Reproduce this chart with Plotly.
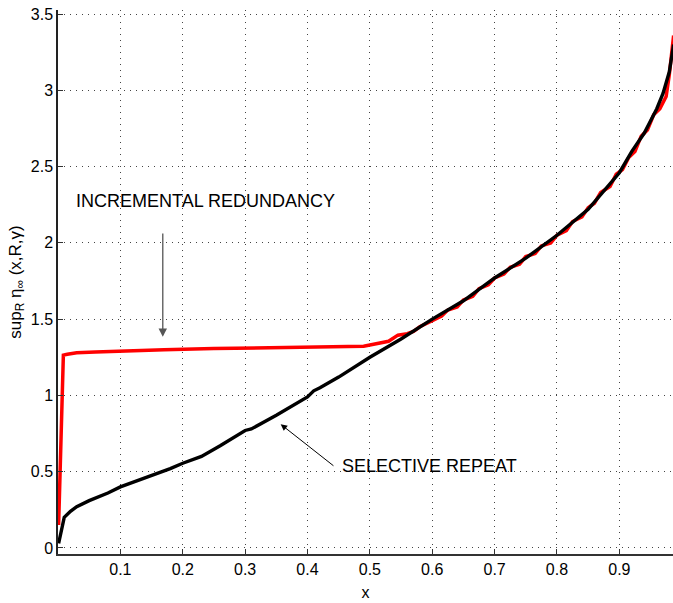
import plotly.graph_objects as go

# Selective repeat throughput curve
sr_x = [0.001, 0.01, 0.02, 0.03, 0.05, 0.08, 0.10, 0.12, 0.15, 0.18, 0.20, 0.23,
        0.26, 0.30, 0.31, 0.35, 0.40, 0.41, 0.42, 0.45, 0.50, 0.55, 0.60, 0.65,
        0.70, 0.75, 0.80, 0.85, 0.90, 0.92, 0.94, 0.96, 0.97, 0.98, 0.987]
sr_y = [0.03, 0.20, 0.24, 0.27, 0.31, 0.36, 0.40, 0.43, 0.47, 0.52, 0.555, 0.60,
        0.67, 0.77, 0.78, 0.87, 0.99, 1.03, 1.05, 1.12, 1.25, 1.37, 1.50, 1.62,
        1.77, 1.90, 2.05, 2.22, 2.46, 2.60, 2.72, 2.88, 2.98, 3.12, 3.30]

# Incremental redundancy throughput curve
ir_x = [0.001, 0.0086, 0.015, 0.03, 0.06, 0.10, 0.17, 0.25, 0.30, 0.40, 0.48,
        0.49, 0.50, 0.52, 0.53, 0.545, 0.56, 0.57, 0.58, 0.60, 0.615, 0.625,
        0.64, 0.65, 0.665, 0.675, 0.69, 0.70, 0.715, 0.725, 0.74, 0.75, 0.765,
        0.775, 0.79, 0.80, 0.815, 0.825, 0.84, 0.85, 0.86, 0.87, 0.885, 0.895,
        0.905, 0.915, 0.925, 0.935, 0.945, 0.955, 0.965, 0.975, 0.98, 0.987]
ir_y = [0.15, 1.264, 1.27, 1.279, 1.285, 1.292, 1.30, 1.307, 1.311, 1.318, 1.325,
        1.322, 1.33, 1.35, 1.355, 1.395, 1.405, 1.42, 1.45, 1.49, 1.52, 1.56,
        1.58, 1.625, 1.65, 1.70, 1.725, 1.77, 1.795, 1.84, 1.86, 1.91, 1.93,
        1.98, 2.00, 2.05, 2.08, 2.14, 2.17, 2.23, 2.26, 2.33, 2.37, 2.45,
        2.48, 2.56, 2.60, 2.70, 2.74, 2.84, 2.88, 2.96, 3.10, 3.36]

x_ticks = [0.1, 0.2, 0.3, 0.4, 0.5, 0.6, 0.7, 0.8, 0.9]
y_ticks = [0, 0.5, 1, 1.5, 2, 2.5, 3, 3.5]
y_tick_text = ["0", "0.5", "1", "1.5", "2", "2.5", "3", "3.5"]

font_family = "Liberation Sans, Arial, sans-serif"

fig = go.Figure()
fig.add_trace(go.Scatter(x=ir_x, y=ir_y, mode="lines",
                         line=dict(color="#ff0000", width=3.5), showlegend=False))
fig.add_trace(go.Scatter(x=sr_x, y=sr_y, mode="lines",
                         line=dict(color="#000000", width=3.4), showlegend=False))

# Curve labels with arrows
fig.add_annotation(x=0.168, y=1.384, ax=0.168, ay=2.072, xref="x", yref="y",
                   axref="x", ayref="y", text="", showarrow=True,
                   arrowhead=2, arrowsize=1.3, arrowwidth=1.3, arrowcolor="#555555")
fig.add_annotation(x=0.236, y=2.273, xref="x", yref="y", text="INCREMENTAL REDUNDANCY",
                   showarrow=False, font=dict(family=font_family, size=18, color="#000"))
fig.add_annotation(x=0.357, y=0.811, ax=0.444, ay=0.531, xref="x", yref="y",
                   axref="x", ayref="y", text="", showarrow=True,
                   arrowhead=2, arrowsize=1.3, arrowwidth=1.0, arrowcolor="#000000")
fig.add_annotation(x=0.596, y=0.536, xref="x", yref="y", text="SELECTIVE REPEAT",
                   showarrow=False, font=dict(family=font_family, size=18, color="#000"))

grid_style = dict(showgrid=True, gridcolor="#444444", gridwidth=1, griddash="1px,5px")

fig.update_xaxes(range=[0, 0.986], tickvals=x_ticks, ticks="inside", ticklen=5,
                 tickcolor="#333", showline=True, linecolor="#333", linewidth=1.5,
                 zeroline=False,
                 title=dict(text="x", font=dict(size=16, family=font_family), standoff=10),
                 tickfont=dict(size=16, family=font_family, color="#000"), **grid_style)
fig.update_yaxes(range=[-0.04, 3.527], tickvals=y_ticks, ticktext=y_tick_text,
                 ticks="inside", ticklen=5, tickcolor="#333", showline=True,
                 linecolor="#222", linewidth=1.5, zeroline=False,
                 title=dict(text="sup<sub>R</sub> η<sub>∞</sub> (x,R,γ)",
                            font=dict(size=17, family=font_family), standoff=5),
                 tickfont=dict(size=16, family=font_family, color="#000"), **grid_style)

fig.update_layout(width=673, height=603, margin=dict(l=58, r=0, t=10, b=49),
                  plot_bgcolor="white", paper_bgcolor="white",
                  font=dict(family=font_family, color="#000"))

fig.write_html("out.html")
